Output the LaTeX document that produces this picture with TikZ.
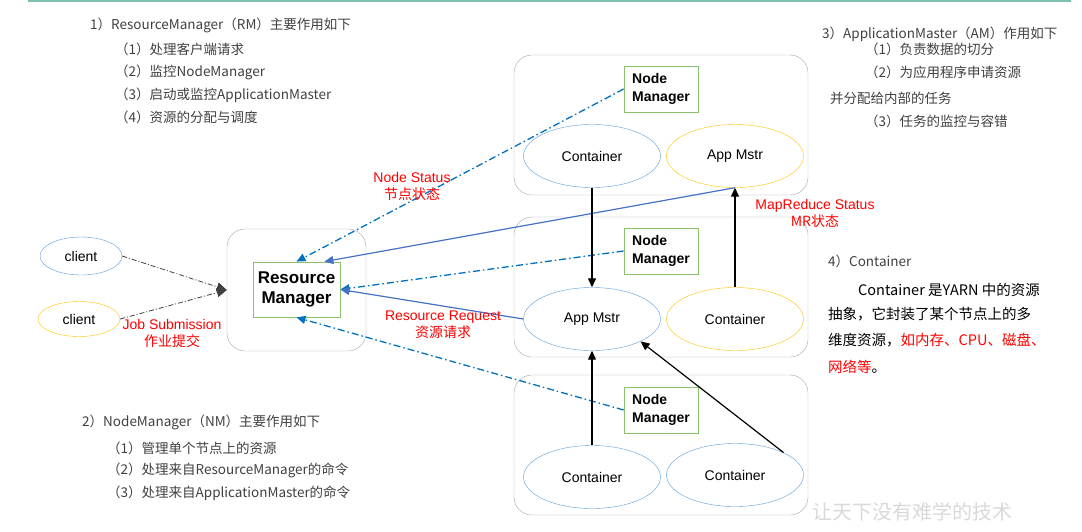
\documentclass[tikz,border=0pt]{standalone}
\usepackage{fontspec}
\setmainfont{Liberation Sans}
\newfontfamily\cjk{Noto Sans CJK SC}
\usetikzlibrary{shapes.geometric,arrows.meta}

\definecolor{boxgray}{HTML}{A6A6A6}
\definecolor{nmgreen}{HTML}{8CC16C}
\definecolor{ellblue}{HTML}{5B9BD5}
\definecolor{ellyellow}{HTML}{FFC000}
\definecolor{statusblue}{HTML}{0070C0}
\definecolor{reqblue}{HTML}{4472C4}
\definecolor{textgray}{HTML}{404040}
\definecolor{topteal}{HTML}{7FC0B0}
\definecolor{markgray}{HTML}{D9D9D9}

\begin{document}
\begin{tikzpicture}[
        x=1pt, y=-1pt,
        every node/.style={font=\fontsize{14}{16}\selectfont},
        hostbox/.style={rectangle, draw=boxgray, thin, rounded corners=18pt, minimum width=294pt, minimum height=140pt},
        nmbox/.style={rectangle, draw=nmgreen, thick, align=left, minimum width=74pt, minimum height=46pt, inner sep=2pt, font=\fontsize{14}{18}\selectfont\bfseries},
        bluecell/.style={ellipse, draw=ellblue, minimum width=137pt, minimum height=63pt, inner sep=0pt},
        yellowcell/.style={ellipse, draw=ellyellow, minimum width=137pt, minimum height=63pt, inner sep=0pt},
        redlabel/.style={text=red, align=center, font=\fontsize{14}{17}\selectfont},
        notes/.style={anchor=west, text=textgray, inner sep=0pt, font=\cjk\fontsize{13.5}{16}\selectfont},
        blacknotes/.style={anchor=west, text=black, inner sep=0pt, font=\cjk\fontsize{14.5}{16}\selectfont},
        statusarrow/.style={-{Triangle[length=9pt,width=8pt]}, draw=statusblue, line width=1.3pt, dash pattern=on 7pt off 3pt on 1.5pt off 3pt},
        reqarrow/.style={-{Triangle[length=9pt,width=8pt]}, draw=reqblue, line width=1.2pt},
        blackarrow/.style={-{Triangle[length=9pt,width=8pt]}, draw=black, line width=1.2pt},
        jobarrow/.style={-{Triangle[length=10pt,width=9pt]}, draw=textgray, line width=0.8pt, dash pattern=on 5pt off 2pt on 1pt off 2pt}
        ]
        \useasboundingbox (0,0) rectangle (1082,531);

        % Top rule
        \draw[topteal, line width=2pt] (28,1) -- (1071,1);

        % Resource manager
        \node[hostbox, minimum width=139pt, minimum height=122pt] (rmhost) at (296.5,290) {};
        \node[rectangle, draw=nmgreen, thick, align=center, minimum width=87pt, minimum height=55pt, inner sep=1pt, font=\fontsize{17}{20}\selectfont\bfseries] (rm) at (296.5,289.5) {Resource\\Manager};

        % Clients
        \node[ellipse, draw=ellblue, minimum width=82pt, minimum height=38pt, inner sep=0pt] (cl1) at (81,256) {client};
        \node[ellipse, draw=ellyellow, minimum width=82pt, minimum height=35pt, inner sep=0pt] (cl2) at (79,319) {client};

        % Node hosts
        \node[hostbox] (h1) at (661,125) {};
        \node[hostbox] (h2) at (661,287) {};
        \node[hostbox] (h3) at (661,445) {};

        \node[nmbox] (nm1) at (661,89) {Node\\Manager};
        \node[nmbox] (nm2) at (661,251) {Node\\Manager};
        \node[nmbox] (nm3) at (661,410) {Node\\Manager};

        \node[bluecell] (c1) at (592,156) {Container};
        \node[yellowcell] (am1) at (735,156) {App Mstr};
        \node[bluecell] (am2) at (592,319) {App Mstr};
        \node[yellowcell] (c2) at (735,319) {Container};
        \node[bluecell] (c3) at (592,477) {Container};
        \node[bluecell] (c4) at (735,475) {Container};

        % Job submission
        \draw[jobarrow] (cl1.east) -- (rmhost.west);
        \draw[jobarrow] (cl2.east) -- (rmhost.west);
        \node[redlabel] (jobs) at (172,333) {Job Submission\\{\cjk 作业提交}};

        % Node status
        \draw[statusarrow] (nm1.west) -- (rm.north);
        \draw[statusarrow] (nm2.west) -- (rm.east);
        \draw[statusarrow] (nm3.west) -- (rm.south);
        \node[redlabel] (nstat) at (412,186) {Node Status\\{\cjk 节点状态}};

        % Requests to resource manager
        \draw[reqarrow] (am1.south) -- (rm.45);
        \draw[reqarrow] (am2.west) -- (rm.east);
        \node[redlabel] (rreq) at (443,325) {Resource Request\\{\cjk 资源请求}};

        % MapReduce status
        \draw[blackarrow] (c1.south) -- (am2.north);
        \draw[blackarrow] (c2.north) -- (am1.south);
        \draw[blackarrow] (c3.north) -- (am2.south);
        \draw[blackarrow] (c4.north east) -- (am2.south east);
        \node[redlabel] (mrstat) at (815,213) {MapReduce Status\\{\cjk MR状态}};

        % Notes: ResourceManager
        \node[notes] (rmt) at (90,25) {1）ResourceManager（RM）主要作用如下};
        \node[notes] (rmt1) at (115,49) {（1）处理客户端请求};
        \node[notes] (rmt2) at (115,72) {（2）监控NodeManager};
        \node[notes] (rmt3) at (115,95) {（3）启动或监控ApplicationMaster};
        \node[notes] (rmt4) at (115,117) {（4）资源的分配与调度};

        % Notes: NodeManager
        \node[notes] (nmt) at (82,422) {2）NodeManager（NM）主要作用如下};
        \node[notes] (nmt1) at (107,448) {（1）管理单个节点上的资源};
        \node[notes] (nmt2) at (107,470) {（2）处理来自ResourceManager的命令};
        \node[notes] (nmt3) at (107,493) {（3）处理来自ApplicationMaster的命令};

        % Notes: ApplicationMaster
        \node[notes] (amt) at (822,34) {3）ApplicationMaster（AM）作用如下};
        \node[notes] (amt1) at (865,49) {（1）负责数据的切分};
        \node[notes] (amt2) at (865,72) {（2）为应用程序申请资源};
        \node[notes] (amt3) at (830,98) {并分配给内部的任务};
        \node[notes] (amt4) at (865,121) {（3）任务的监控与容错};

        % Notes: Container
        \node[notes] (ct) at (828,261) {4）Container};
        \node[blacknotes] (ct1) at (858,290) {Container 是YARN 中的资源};
        \node[blacknotes] (ct2) at (828,314) {抽象，它封装了某个节点上的多};
        \node[blacknotes] (ct3) at (828,340) {维度资源，\textcolor{red}{如内存、CPU、磁盘、}};
        \node[blacknotes] (ct4) at (828,367) {\textcolor{red}{网络等}。};

        % Watermark
        \node[anchor=west, text=markgray, inner sep=0pt, font=\cjk\fontsize{20}{22}\selectfont] (mark) at (812,512) {让天下没有难学的技术};

    \end{tikzpicture}
\end{document}
